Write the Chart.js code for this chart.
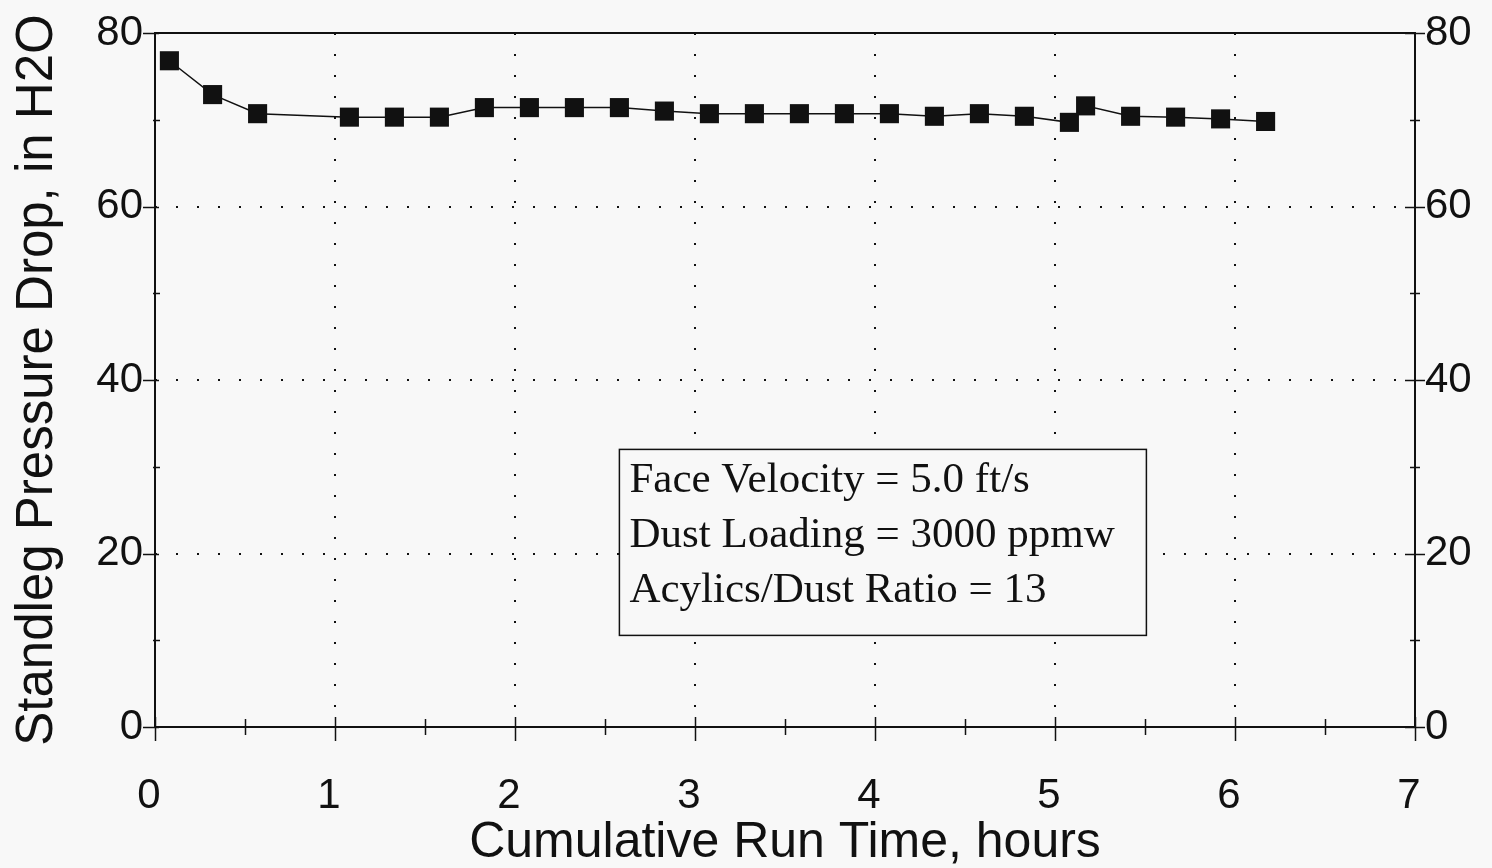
<!DOCTYPE html>
<html>
<head>
<meta charset="utf-8">
<script src="https://cdn.jsdelivr.net/npm/chart.js"></script>
<style>
  html, body { margin: 0; padding: 0; background: #f8f8f8; }
  #wrap { width: 1492px; height: 868px; }
</style>
</head>
<body>
<div id="wrap"><canvas id="dpChart"></canvas></div>
<script>
// run time (hours) and standleg pressure drop (in H2O)
const runHours = [0.08, 0.32, 0.57, 1.08, 1.33, 1.58, 1.83, 2.08, 2.33, 2.58, 2.83, 3.08, 3.33,
                  3.58, 3.83, 4.08, 4.33, 4.58, 4.83, 5.08, 5.17, 5.42, 5.67, 5.92, 6.17];
const pressureDrop = [76.8, 72.9, 70.7, 70.3, 70.3, 70.3, 71.4, 71.4, 71.4, 71.4, 71.0, 70.7, 70.7,
                      70.7, 70.7, 70.7, 70.4, 70.7, 70.4, 69.7, 71.6, 70.4, 70.3, 70.1, 69.8];
const xTicks = [0, 1, 2, 3, 4, 5, 6, 7];
const yTicks = [0, 20, 40, 60, 80];
const noteLines = ["Face Velocity = 5.0 ft/s", "Dust Loading = 3000 ppmw", "Acylics/Dust Ratio = 13"];

const INK = "#111";
const SANS = "'Liberation Sans', Arial, sans-serif";
const SERIF = "'Liberation Serif', 'Times New Roman', serif";

// frame, crossing tick marks and the condition box
const framePlugin = {
    id: "frame",
    afterDatasetsDraw(chart) {
        const { ctx, chartArea: a, scales } = chart;
        const x = scales.x, y = scales.y;
        ctx.save();
        ctx.strokeStyle = INK;
        ctx.lineWidth = 2;
        ctx.strokeRect(a.left, a.top, a.right - a.left, a.bottom - a.top);

        ctx.lineWidth = 1.5;
        ctx.beginPath();
        // bottom axis: majors every hour, minors every half hour
        for (let v = 0; v <= 7.001; v += 0.5) {
            const px = Math.round(x.getPixelForValue(v)) + 0.5;
            const major = Math.abs(v - Math.round(v)) < 1e-6;
            const up = major ? 10 : 8, down = major ? 14 : 8;
            ctx.moveTo(px, a.bottom - up);
            ctx.lineTo(px, a.bottom + down);
        }
        // left and right axes: majors every 20, minors every 10
        for (let v = 0; v <= 80; v += 10) {
            const py = Math.round(y.getPixelForValue(v)) + 0.5;
            const major = v % 20 === 0;
            if (major) {
                ctx.moveTo(a.left - 12, py); ctx.lineTo(a.left + 4, py);
                ctx.moveTo(a.right - 10, py); ctx.lineTo(a.right + 10, py);
            } else {
                ctx.moveTo(a.left - 2, py); ctx.lineTo(a.left + 5, py);
                ctx.moveTo(a.right - 5, py); ctx.lineTo(a.right + 5, py);
            }
        }
        ctx.stroke();

        // condition box
        const bx = x.getPixelForValue(2.58), by = y.getPixelForValue(32.0);
        const bw = 527, bh = 186;
        ctx.fillStyle = "#f8f8f8";
        ctx.fillRect(bx, by, bw, bh);
        ctx.lineWidth = 1.5;
        ctx.strokeRect(bx, by, bw, bh);
        ctx.fillStyle = INK;
        ctx.font = "43px " + SERIF;
        ctx.textBaseline = "alphabetic";
        ctx.textAlign = "left";
        noteLines.forEach((t, i) => ctx.fillText(t, bx + 10, by + 43 + i * 55));
        ctx.restore();
    }
};

// fixed width for the vertical axes, without the extra label overhang
const fitVertical = (w) => (s) => {
    s.width = w;
    s.paddingTop = 0;
    s.paddingBottom = 0;
};

new Chart(document.getElementById("dpChart"), {
    type: "line",
    data: {
        datasets: [{
            data: runHours.map((h, i) => ({ x: h, y: pressureDrop[i] })),
            borderColor: INK,
            borderWidth: 1.5,
            backgroundColor: INK,
            pointStyle: "rect",
            pointRadius: 13.5,
            pointBorderWidth: 0,
            tension: 0,
            fill: false
        }]
    },
    options: {
        responsive: true,
        maintainAspectRatio: false,
        animation: false,
        layout: { padding: { top: 33, left: 0, right: 0, bottom: 0 } },
        plugins: {
            legend: { display: false },
            tooltip: { enabled: false }
        },
        scales: {
            x: {
                type: "linear",
                min: 0, max: 7,
                afterBuildTicks: (s) => { s.ticks = xTicks.map(v => ({ value: v })); },
                afterFit: (s) => { s.height = 141; },
                ticks: {
                    color: INK,
                    font: { family: SANS, size: 42 },
                    padding: 44,
                    labelOffset: -6,
                    maxRotation: 0
                },
                grid: {
                    drawTicks: false,
                    lineWidth: 2,
                    color: (c) => (c.tick && c.tick.value > 0 && c.tick.value < 7) ? INK : "rgba(0,0,0,0)"
                },
                border: { display: false, dash: [2, 19] },
                title: {
                    display: true,
                    text: "Cumulative Run Time, hours",
                    color: INK,
                    font: { family: SANS, size: 50, lineHeight: 1.0 },
                    padding: { top: 0, bottom: 0 }
                }
            },
            y: {
                type: "linear",
                position: "left",
                min: 0, max: 80,
                afterBuildTicks: (s) => { s.ticks = yTicks.map(v => ({ value: v })); },
                afterFit: fitVertical(155),
                ticks: {
                    color: INK,
                    font: { family: SANS, size: 42 },
                    padding: 12
                },
                grid: {
                    drawTicks: false,
                    lineWidth: 2,
                    color: (c) => (c.tick && c.tick.value > 0 && c.tick.value < 80) ? INK : "rgba(0,0,0,0)"
                },
                border: { display: false, dash: [2, 19] },
                title: {
                    display: true,
                    text: "Standleg Pressure Drop, in H2O",
                    color: INK,
                    font: { family: SANS, size: 51, lineHeight: 1.0 },
                    padding: { top: 12, bottom: 0 }
                }
            },
            y2: {
                type: "linear",
                position: "right",
                min: 0, max: 80,
                afterBuildTicks: (s) => { s.ticks = yTicks.map(v => ({ value: v })); },
                afterFit: fitVertical(77),
                ticks: {
                    color: INK,
                    font: { family: SANS, size: 42 },
                    padding: 10
                },
                grid: { display: false, drawTicks: false },
                border: { display: false }
            }
        }
    },
    plugins: [framePlugin]
});
</script>
</body>
</html>
